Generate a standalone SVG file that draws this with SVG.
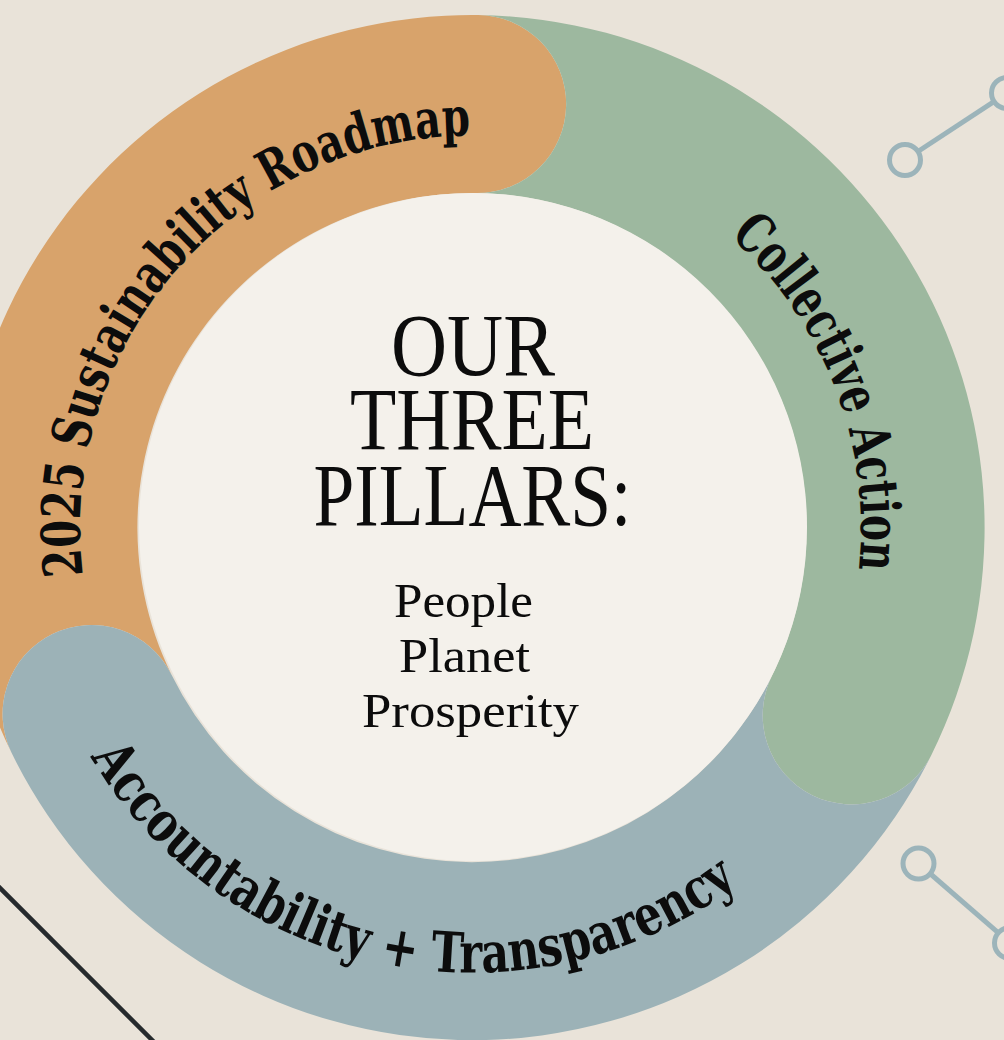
<svg xmlns="http://www.w3.org/2000/svg" width="1004" height="1040" viewBox="0 0 1004 1040">
  <defs>
    <style>
      .bg { fill: #e9e3d9; }
      .seg-orange { fill: #d8a36b; }
      .seg-green { fill: #9db89f; }
      .seg-blue { fill: #9cb2b7; }
      .core { fill: #f4f1eb; }
      .arc-label { font-family: "DejaVu Serif", "Liberation Serif", serif; font-weight: 700; fill: #0c0c0c; }
      .title { font-family: "Liberation Serif", "DejaVu Serif", serif; fill: #0c0c0c; text-anchor: middle; }
      .link { stroke: #9cb4ba; stroke-width: 5; fill: none; }
      .dot { stroke: #9cb4ba; stroke-width: 5; fill: #e9e3d9; }
      .rule { stroke: #262a2d; stroke-width: 4.5; fill: none; }
    </style>
    <!-- baselines for the curved labels, all around the ring centre (472, 527.6) -->
    <path id="path-roadmap" d="M 82.9 575.4 A 392 392 0 0 1 540.1 141.6"/>
    <path id="path-action" d="M 729.8 236.3 A 389 389 0 0 1 837.5 660.6"/>
    <path id="path-accountability" d="M 90.6 756.8 A 445 445 0 0 0 786.7 842.3"/>
  </defs>

  <rect class="bg" x="0" y="0" width="1004" height="1040"/>

  <!-- decorative links and rule -->
  <g id="connectors">
    <line class="link" x1="905" y1="160" x2="1007" y2="93"/>
    <circle class="dot" cx="905" cy="160" r="15.5"/>
    <circle class="dot" cx="1007" cy="93" r="15.5"/>
    <line class="link" x1="918.5" y1="863.5" x2="1010" y2="943"/>
    <circle class="dot" cx="918.5" cy="863.5" r="15.5"/>
    <circle class="dot" cx="1010" cy="943" r="15.5"/>
    <line class="rule" x1="-4" y1="884" x2="156" y2="1044"/>
  </g>

  <!-- ring segments: each one has a concave start and a rounded end -->
  <g id="pillar-roadmap">
    <path class="seg-orange" d="M 11.67 753.11 A 512.6 512.6 0 0 1 478.26 15.04 A 89 89 0 0 1 476.09 193.03 A 334.6 334.6 0 0 0 171.52 674.80 A 89 89 0 0 0 11.67 753.11 Z"/>
    <text class="arc-label" font-size="54"><textPath href="#path-roadmap" textLength="662" lengthAdjust="spacingAndGlyphs">2025 Sustainability Roadmap</textPath></text>
  </g>

  <g id="pillar-action">
    <path class="seg-green" d="M 478.26 15.04 A 512.6 512.6 0 0 1 931.14 755.52 A 89 89 0 0 1 771.71 676.37 A 334.6 334.6 0 0 0 476.09 193.03 A 89 89 0 0 0 478.26 15.04 Z"/>
    <text class="arc-label" font-size="55"><textPath href="#path-action" textLength="371" lengthAdjust="spacingAndGlyphs">Collective Action</textPath></text>
  </g>

  <g id="pillar-accountability">
    <path class="seg-blue" d="M 931.14 755.52 A 512.6 512.6 0 0 1 11.67 753.11 A 89 89 0 0 1 171.52 674.80 A 334.6 334.6 0 0 0 771.71 676.37 A 89 89 0 0 0 931.14 755.52 Z"/>
    <text class="arc-label" font-size="56"><textPath href="#path-accountability" textLength="743" lengthAdjust="spacingAndGlyphs">Accountability + Transparency</textPath></text>
  </g>

  <!-- centre disc with the heading -->
  <g id="centre">
    <circle class="core" cx="473" cy="527" r="334"/>
    <text class="title" x="473" y="375" font-size="88" textLength="164" lengthAdjust="spacingAndGlyphs">OUR</text>
    <text class="title" x="472" y="449" font-size="88" textLength="244" lengthAdjust="spacingAndGlyphs">THREE</text>
    <text class="title" x="472.5" y="525" font-size="88" textLength="318" lengthAdjust="spacingAndGlyphs">PILLARS:</text>
    <text class="title" x="463.5" y="617" font-size="48" textLength="139" lengthAdjust="spacingAndGlyphs">People</text>
    <text class="title" x="464.5" y="672" font-size="48" textLength="131" lengthAdjust="spacingAndGlyphs">Planet</text>
    <text class="title" x="470.5" y="727" font-size="48" textLength="217" lengthAdjust="spacingAndGlyphs">Prosperity</text>
  </g>
</svg>
